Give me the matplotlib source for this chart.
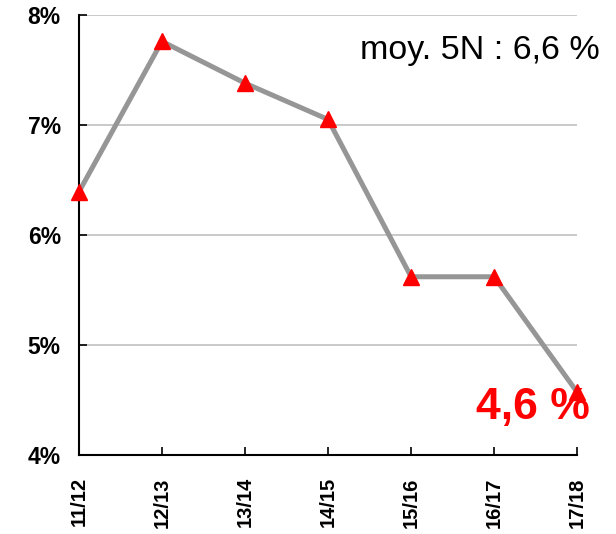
import matplotlib.pyplot as plt

plt.rcParams['font.family'] = ['Liberation Sans', 'DejaVu Sans']

seasons = ['11/12', '12/13', '13/14', '14/15', '15/16', '16/17', '17/18']
rates = [6.39, 7.76, 7.38, 7.05, 5.62, 5.62, 4.57]
yticks = [4, 5, 6, 7, 8]

fig = plt.figure(figsize=(6.16, 5.34), dpi=100)
ax = fig.add_axes([0.128, 0.148, 0.809, 0.824])

x = list(range(len(seasons)))
ax.plot(x, rates, color='#969696', lw=3.6, zorder=2, clip_on=False)
ax.plot(x, rates, ls='none', marker='^', ms=12, color='#ff0000', zorder=3, clip_on=False)

ax.set_xlim(0, len(seasons) - 1)
ax.set_ylim(4, 8)
ax.set_yticks(yticks)
ax.set_yticklabels([f'{v}%' for v in yticks], fontsize=16.5, fontweight='bold')
ax.set_xticks(x)
ax.set_xticklabels(seasons, rotation=90, fontsize=14.5, fontweight='bold')
ax.tick_params(axis='x', direction='in', length=6, width=1.2, pad=16)
ax.tick_params(axis='y', direction='in', length=6, width=1.2, pad=13)

ax.grid(axis='y', color='#c0c0c0', lw=1.2, zorder=1)
ax.set_axisbelow(True)
for s in ['top', 'right']:
    ax.spines[s].set_visible(False)
for s in ['left', 'bottom']:
    ax.spines[s].set_linewidth(1.5)

ax.text(1.046, 0.92, 'moy. 5N : 6,6 %', transform=ax.transAxes, ha='right', va='center',
        fontsize=24.5)
ax.text(1.026, 0.109, '4,6 %', transform=ax.transAxes, ha='right', va='center',
        fontsize=32, fontweight='bold', color='#ff0000')

fig.savefig('out.png', dpi=100)
